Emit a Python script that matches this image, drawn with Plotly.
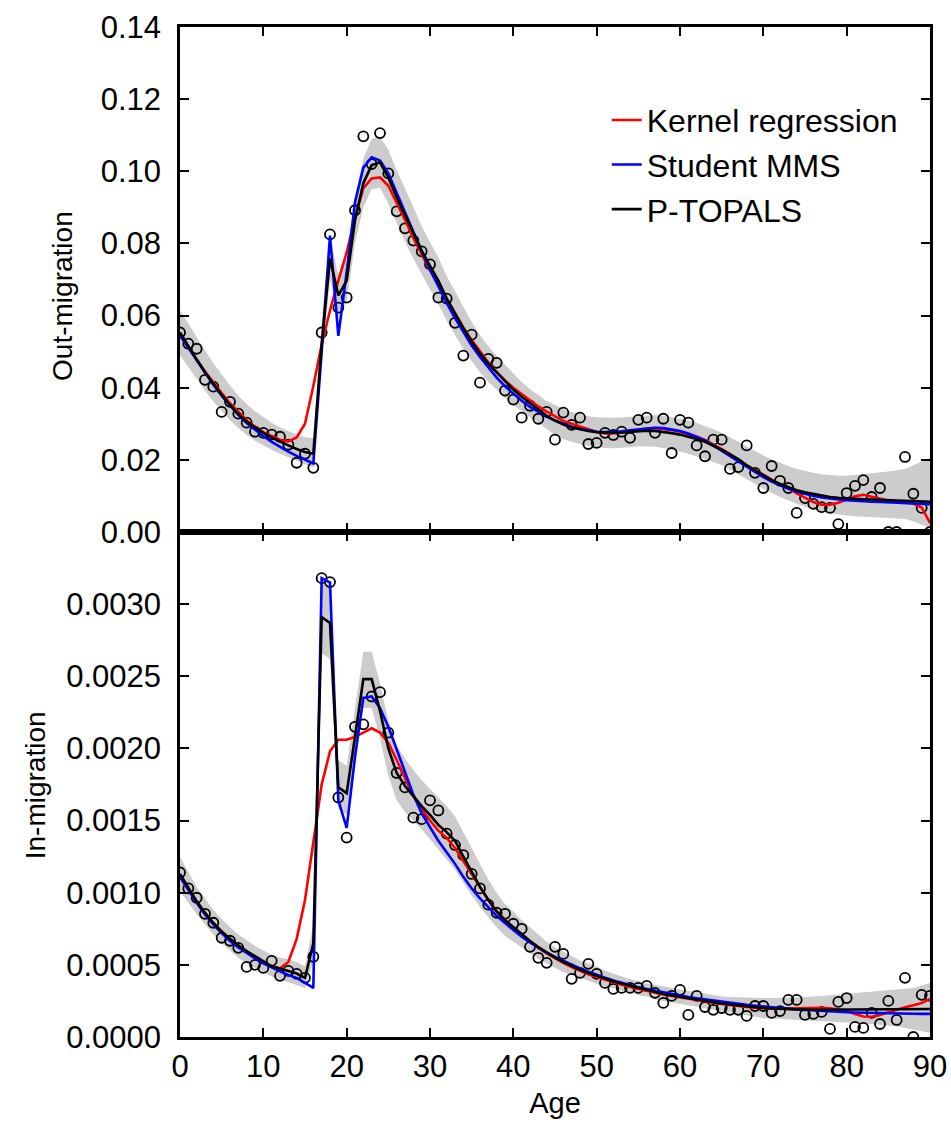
import plotly.graph_objects as go
from plotly.subplots import make_subplots

ages = list(range(91))

# ---------------- Out-migration (top panel) ----------------
out_obs = [0.0553,0.0522,0.0508,0.0422,0.0403,0.0333,0.0361,0.0328,0.0303,0.0278,
           0.0275,0.0270,0.0264,0.0242,0.0192,0.0217,0.0178,0.0553,0.0825,0.0622,
           0.0650,0.0892,0.1097,0.1020,0.1106,0.0994,0.0889,0.0842,0.0808,0.0778,
           0.0742,0.0650,0.0647,0.0580,0.0489,0.0547,0.0414,0.0480,0.0469,0.0392,
           0.0367,0.0317,0.0350,0.0314,0.0333,0.0256,0.0331,0.0297,0.0317,0.0244,
           0.0247,0.0275,0.0269,0.0278,0.0261,0.0311,0.0317,0.0275,0.0314,0.0219,
           0.0311,0.0303,0.0240,0.0210,0.0256,0.0256,0.0175,0.0180,0.0240,0.0164,
           0.0122,0.0183,0.0142,0.0122,0.0053,0.0094,0.0078,0.0069,0.0067,0.0022,
           0.0108,0.0128,0.0144,0.0097,0.0122,0.0000,0.0000,0.0208,0.0106,0.0067,
           0.0000]
out_topals = [0.0553,0.0515,0.0478,0.0443,0.0410,0.0380,0.0352,0.0327,0.0306,0.0290,
              0.0275,0.0262,0.0250,0.0240,0.0230,0.0222,0.0217,0.0520,0.0758,0.0656,
              0.0697,0.0864,0.0967,0.1017,0.1025,0.0983,0.0928,0.0878,0.0828,0.0780,
              0.0738,0.0697,0.0648,0.0606,0.0565,0.0528,0.0495,0.0467,0.0442,0.0418,
              0.0395,0.0375,0.0357,0.0340,0.0322,0.0309,0.0298,0.0290,0.0284,0.0280,
              0.0277,0.0275,0.0275,0.0276,0.0278,0.0280,0.0281,0.0280,0.0278,0.0274,
              0.0270,0.0265,0.0258,0.0250,0.0240,0.0228,0.0215,0.0202,0.0185,0.0171,
              0.0157,0.0144,0.0133,0.0124,0.0116,0.0110,0.0105,0.0101,0.0097,0.0095,
              0.0093,0.0092,0.0091,0.0090,0.0089,0.0089,0.0088,0.0087,0.0086,0.0085,
              0.0084]
out_mms = [0.0545,0.0510,0.0475,0.0440,0.0408,0.0378,0.0350,0.0325,0.0302,0.0283,
           0.0266,0.0250,0.0236,0.0223,0.0211,0.0200,0.0190,0.0500,0.0822,0.0544,
           0.0720,0.0914,0.1010,0.1039,0.1030,0.0994,0.0940,0.0885,0.0830,0.0778,
           0.0728,0.0680,0.0635,0.0593,0.0553,0.0517,0.0485,0.0455,0.0428,0.0404,
           0.0383,0.0364,0.0347,0.0333,0.0320,0.0309,0.0300,0.0292,0.0286,0.0281,
           0.0278,0.0277,0.0277,0.0279,0.0282,0.0285,0.0288,0.0289,0.0288,0.0285,
           0.0280,0.0273,0.0264,0.0253,0.0240,0.0226,0.0211,0.0196,0.0181,0.0166,
           0.0152,0.0140,0.0129,0.0120,0.0112,0.0105,0.0100,0.0096,0.0092,0.0090,
           0.0088,0.0086,0.0085,0.0084,0.0083,0.0082,0.0081,0.0080,0.0079,0.0078,
           0.0077]
out_kernel = [0.0548,0.0512,0.0478,0.0445,0.0414,0.0385,0.0357,0.0332,0.0310,0.0292,
              0.0277,0.0266,0.0256,0.0251,0.0262,0.0300,0.0405,0.0520,0.0614,0.0697,
              0.0775,0.0872,0.0953,0.0980,0.0983,0.0960,0.0914,0.0865,0.0815,0.0768,
              0.0725,0.0685,0.0645,0.0605,0.0567,0.0532,0.0500,0.0470,0.0443,0.0420,
              0.0400,0.0382,0.0365,0.0348,0.0334,0.0320,0.0308,0.0300,0.0292,0.0284,
              0.0277,0.0273,0.0273,0.0276,0.0280,0.0284,0.0287,0.0288,0.0286,0.0283,
              0.0278,0.0272,0.0265,0.0255,0.0243,0.0230,0.0216,0.0200,0.0185,0.0172,
              0.0158,0.0145,0.0133,0.0122,0.0107,0.0094,0.0083,0.0076,0.0076,0.0081,
              0.0090,0.0099,0.0103,0.0098,0.0091,0.0087,0.0085,0.0083,0.0079,0.0068,
              0.0025]
out_lo = [0.0490,0.0457,0.0424,0.0392,0.0362,0.0335,0.0310,0.0288,0.0269,0.0253,
          0.0240,0.0228,0.0217,0.0207,0.0197,0.0188,0.0178,0.0470,0.0700,0.0600,
          0.0640,0.0800,0.0900,0.0950,0.0955,0.0910,0.0855,0.0805,0.0758,0.0713,
          0.0672,0.0632,0.0586,0.0546,0.0508,0.0474,0.0443,0.0417,0.0394,0.0372,
          0.0352,0.0334,0.0318,0.0303,0.0285,0.0268,0.0257,0.0249,0.0243,0.0238,
          0.0235,0.0233,0.0232,0.0233,0.0235,0.0238,0.0238,0.0236,0.0233,0.0229,
          0.0223,0.0217,0.0210,0.0202,0.0194,0.0185,0.0172,0.0159,0.0146,0.0133,
          0.0120,0.0108,0.0097,0.0087,0.0078,0.0070,0.0063,0.0057,0.0052,0.0048,
          0.0046,0.0044,0.0042,0.0041,0.0040,0.0039,0.0038,0.0036,0.0030,0.0020,
          0.0011]
out_hi = [0.0615,0.0577,0.0540,0.0503,0.0468,0.0436,0.0406,0.0378,0.0355,0.0335,
          0.0318,0.0303,0.0290,0.0279,0.0270,0.0263,0.0260,0.0580,0.0820,0.0710,
          0.0755,0.0930,0.1035,0.1090,0.1095,0.1060,0.1003,0.0953,0.0900,0.0848,
          0.0803,0.0762,0.0710,0.0666,0.0622,0.0582,0.0546,0.0515,0.0488,0.0463,
          0.0438,0.0416,0.0396,0.0379,0.0363,0.0352,0.0341,0.0333,0.0326,0.0321,
          0.0318,0.0317,0.0317,0.0318,0.0320,0.0322,0.0324,0.0324,0.0322,0.0318,
          0.0314,0.0309,0.0302,0.0294,0.0285,0.0275,0.0262,0.0249,0.0236,0.0224,
          0.0212,0.0202,0.0192,0.0183,0.0175,0.0169,0.0164,0.0160,0.0157,0.0156,
          0.0156,0.0158,0.0160,0.0162,0.0165,0.0168,0.0171,0.0175,0.0185,0.0196,
          0.0206]

# ---------------- In-migration (bottom panel) ----------------
in_obs = [0.00114,0.00103,0.000965,0.000854,0.000792,0.000688,0.000667,0.000618,0.000486,0.000500,
          0.000479,0.000528,0.000424,0.000458,0.000438,0.000410,0.000556,0.00318,0.003153,0.00166,
          0.001382,0.00215,0.002167,0.00236,0.00239,0.00211,0.00183,0.00173,0.00152,0.00151,
          0.00164,0.00157,0.00141,0.00133,0.00126,0.00113,0.00103,0.000917,0.000861,0.000854,
          0.000785,0.00075,0.000625,0.000549,0.000514,0.000625,0.000576,0.000403,0.000444,0.000507,
          0.000438,0.000375,0.000333,0.00034,0.00034,0.00034,0.000354,0.000306,0.000236,0.000285,
          0.000326,0.000153,0.000285,0.000208,0.000188,0.000201,0.000188,0.000188,0.000146,0.000215,
          0.000215,0.000167,0.00018,0.000257,0.000257,0.000153,0.00016,0.000174,0.000056,0.000243,
          0.00027,0.00007,0.000063,0.000167,0.00009,0.00025,0.000118,0.00041,0.0,0.000292,
          0.000285]
in_topals = [0.00113,0.00103,0.00094,0.00086,0.00079,0.00073,0.00068,0.000635,0.000595,0.00056,
             0.00052,0.00049,0.000475,0.00046,0.00044,0.00041,0.00065,0.00291,0.00287,0.00173,
             0.00169,0.00208,0.00248,0.00248,0.00226,0.00200,0.00183,0.00174,0.00167,0.00160,
             0.00154,0.00147,0.00142,0.00136,0.00125,0.00114,0.00104,0.00095,0.00087,0.00081,
             0.00076,0.00071,0.000665,0.000623,0.000585,0.00055,0.00052,0.000492,0.000466,0.000444,
             0.000424,0.000405,0.000387,0.00037,0.000355,0.00034,0.000325,0.00031,0.000298,0.000287,
             0.000277,0.000267,0.000257,0.000248,0.00024,0.000232,0.000225,0.000218,0.000212,0.000207,
             0.000202,0.000198,0.000195,0.000193,0.000191,0.00019,0.000189,0.000189,0.000189,0.000189,
             0.000189,0.000189,0.00019,0.00019,0.00019,0.000191,0.000191,0.000192,0.000193,0.000193,
             0.000194]
in_mms = [0.00111,0.00102,0.00093,0.00085,0.00078,0.00072,0.000665,0.00062,0.00058,0.000545,
          0.00051,0.00048,0.000455,0.00043,0.00041,0.000375,0.00034,0.00318,0.00315,0.00164,
          0.00145,0.00194,0.00235,0.00236,0.00228,0.00215,0.00199,0.00183,0.00168,0.00155,
          0.00145,0.00136,0.00128,0.0012,0.00111,0.00103,0.00096,0.0009,0.00084,0.00079,
          0.00074,0.000695,0.000655,0.000618,0.000585,0.000555,0.000527,0.0005,0.000475,0.000452,
          0.00043,0.00041,0.000392,0.000375,0.00036,0.000345,0.000332,0.00032,0.000308,0.000297,
          0.000287,0.000277,0.000268,0.00026,0.000252,0.000244,0.000237,0.00023,0.000223,0.000217,
          0.000211,0.000206,0.0002,0.000196,0.000191,0.000187,0.000183,0.00018,0.000177,0.000174,
          0.000172,0.00017,0.000168,0.000166,0.000165,0.000164,0.000163,0.000162,0.000161,0.00016,
          0.00016]
in_kernel = [0.00111,0.00102,0.00094,0.00086,0.00079,0.00073,0.000675,0.000625,0.000585,0.00055,
             0.000515,0.00049,0.000475,0.00052,0.00068,0.00095,0.00135,0.00175,0.00198,0.00206,
             0.00206,0.00208,0.00211,0.00214,0.00211,0.00204,0.00192,0.00179,0.00167,0.00158,
             0.0015,0.00143,0.00138,0.00131,0.00122,0.00113,0.00104,0.00095,0.00087,0.00081,
             0.000755,0.000705,0.00066,0.000618,0.00058,0.000545,0.000513,0.000484,0.000458,0.000435,
             0.000415,0.000396,0.000378,0.000362,0.000347,0.000333,0.00032,0.000307,0.000295,0.000284,
             0.000274,0.000264,0.000254,0.000245,0.000237,0.000229,0.000221,0.000214,0.000208,0.000203,
             0.000199,0.000197,0.000197,0.000199,0.000201,0.000203,0.000204,0.000203,0.000199,0.000192,
             0.000182,0.00016,0.000142,0.00014,0.000152,0.000172,0.00019,0.000206,0.00022,0.000236,
             0.000264]
in_lo = [0.00101,0.00093,0.00085,0.00078,0.00071,0.00065,0.0006,0.00055,0.00051,0.00048,
         0.00045,0.00042,0.0004,0.00038,0.00036,0.00034,0.00053,0.00266,0.00262,0.00158,
         0.00154,0.0019,0.00228,0.00228,0.00207,0.00181,0.00164,0.00156,0.0015,0.00144,
         0.00137,0.0013,0.00123,0.00116,0.00107,0.00098,0.0009,0.00083,0.00076,0.0007,
         0.00066,0.00062,0.00058,0.00054,0.00051,0.00048,0.00045,0.00043,0.00041,0.00039,
         0.00037,0.00035,0.00034,0.00032,0.00031,0.00029,0.00028,0.00026,0.00025,0.00024,
         0.00023,0.00022,0.00021,0.0002,0.00019,0.00018,0.00017,0.00016,0.00015,0.00014,
         0.00013,0.000128,0.000125,0.000123,0.00012,0.00012,0.000115,0.00011,0.00011,0.000105,
         0.0001,0.000097,0.000093,0.00009,0.000086,0.00008,0.000075,0.00006,0.00005,0.00004,
         0.00003]
in_hi = [0.00125,0.00114,0.00104,0.00096,0.00088,0.00082,0.00076,0.00071,0.00067,0.00063,
         0.0006,0.00057,0.00055,0.00054,0.00052,0.00049,0.00078,0.00318,0.00312,0.00192,
         0.00188,0.00228,0.00267,0.00267,0.00245,0.00219,0.00202,0.00193,0.00185,0.00178,
         0.00172,0.00166,0.0016,0.00153,0.00142,0.0013,0.00119,0.00109,0.001,0.00092,
         0.00087,0.00081,0.00076,0.00071,0.00066,0.00062,0.00059,0.00056,0.00053,0.00051,
         0.00049,0.00046,0.00044,0.00042,0.0004,0.00039,0.00037,0.00036,0.00035,0.00034,
         0.00033,0.00032,0.00031,0.0003,0.00029,0.00028,0.000278,0.000275,0.000272,0.00027,
         0.00027,0.00027,0.00027,0.000272,0.000275,0.000278,0.00028,0.000285,0.00029,0.000295,
         0.0003,0.000305,0.00031,0.000315,0.00032,0.000322,0.000325,0.00033,0.00034,0.000355,
         0.000375]

out_ticks = [0.00, 0.02, 0.04, 0.06, 0.08, 0.10, 0.12, 0.14]
in_ticks = [0.0, 0.0005, 0.0010, 0.0015, 0.0020, 0.0025, 0.0030]
age_ticks = [0, 10, 20, 30, 40, 50, 60, 70, 80, 90]

series_names = ["Kernel regression", "Student MMS", "P-TOPALS"]
series_colors = ["#ff0000", "#0000ff", "#000000"]
BAND = "#cccccc"
FONT = "Liberation Sans, Arial, Helvetica, sans-serif"

fig = make_subplots(rows=2, cols=1, shared_xaxes=True, vertical_spacing=0)

panels = [
    (1, out_obs, out_lo, out_hi, [out_kernel, out_mms, out_topals]),
    (2, in_obs, in_lo, in_hi, [in_kernel, in_mms, in_topals]),
]
for row, obs, lo, hi, curves in panels:
    fig.add_trace(go.Scatter(x=ages, y=lo, mode="lines", line=dict(width=0, color=BAND),
                             showlegend=False, hoverinfo="skip"), row=row, col=1)
    fig.add_trace(go.Scatter(x=ages, y=hi, mode="lines", line=dict(width=0, color=BAND),
                             fill="tonexty", fillcolor=BAND, showlegend=False,
                             hoverinfo="skip"), row=row, col=1)
    fig.add_trace(go.Scatter(x=ages, y=obs, mode="markers",
                             marker=dict(symbol="circle-open", size=10, color="black",
                                         line=dict(width=1.8, color="black")),
                             showlegend=False), row=row, col=1)
    for name, color, vals in zip(series_names, series_colors, curves):
        fig.add_trace(go.Scatter(x=ages, y=vals, mode="lines", name=name,
                                 line=dict(color=color, width=2.6),
                                 showlegend=(row == 1)), row=row, col=1)

axis_common = dict(showline=True, linecolor="black", linewidth=2.5, mirror="ticks",
                   ticks="inside", ticklen=9, tickwidth=2, tickcolor="black",
                   showgrid=False, zeroline=False, automargin=False,
                   tickfont=dict(family=FONT, size=31, color="black"))

fig.update_xaxes(range=[0, 90], tickvals=age_ticks, **axis_common)
fig.update_xaxes(showticklabels=False, row=1, col=1)
fig.update_xaxes(title=dict(text="Age", font=dict(family=FONT, size=29, color="black"),
                            standoff=10), row=2, col=1)
fig.update_yaxes(**axis_common)
fig.update_yaxes(range=[0, 0.14], tickvals=out_ticks, tickformat=".2f",
                 ticklabelstandoff=10, row=1, col=1)
fig.update_yaxes(range=[0, 0.0035], tickvals=in_ticks, tickformat=".4f",
                 ticklabelstandoff=10, row=2, col=1)

title_font = dict(family=FONT, size=28, color="black")
fig.add_annotation(text="Out-migration", xref="paper", yref="paper",
                   x=-0.157, y=0.734, textangle=-90, showarrow=False,
                   xanchor="center", yanchor="middle", font=title_font)
fig.add_annotation(text="In-migration", xref="paper", yref="paper",
                   x=-0.193, y=0.2495, textangle=-90, showarrow=False,
                   xanchor="center", yanchor="middle", font=title_font)

fig.update_layout(
    width=951, height=1128,
    margin=dict(l=180, r=21, t=27, b=91, autoexpand=False),
    paper_bgcolor="white", plot_bgcolor="white",
    font=dict(family=FONT, color="black"),
    legend=dict(x=0.569, y=0.935, xanchor="left", yanchor="top", traceorder="normal",
                bgcolor="rgba(0,0,0,0)", font=dict(family=FONT, size=32, color="black"),
                tracegroupgap=0),
)

fig.write_html("out.html")
